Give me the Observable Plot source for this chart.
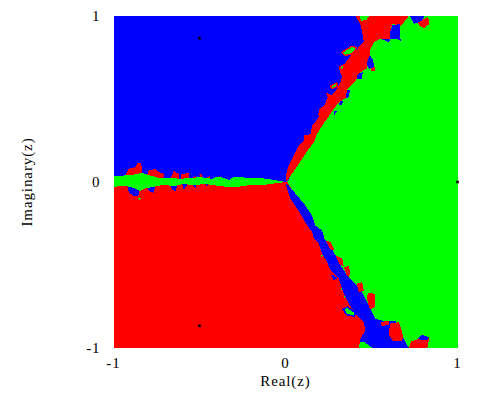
<!DOCTYPE html>
<html><head><meta charset="utf-8">
<script src="https://cdn.jsdelivr.net/npm/d3@7"></script>
<script src="https://cdn.jsdelivr.net/npm/@observablehq/plot@0.6"></script>
<style>html,body{margin:0;padding:0;background:#fff}svg{display:block}</style>
</head><body><div id="chart"></div>
<script>
const plane = [[-1,-1],[1,-1],[1,1],[-1,1]];
const blueSector = [[-1,1],[.55,1],[.01,0],[-1,0]];
const redSector = [[-1,0],[.01,0],[.6,-1],[-1,-1]];
const redFilament = [[0,0],[.006,.059],[.019,.099],[.048,.16],[.078,.22],[.107,.25],[.11,.28],[.149,.29],[.153,.34],[.18,.37],[.2,.401],[.194,.437],[.229,.465],[.242,.501],[.262,.521],[.291,.551],[.316,.591],[.329,.638],[.31,.682],[.349,.718],[.368,.746],[.417,.802],[.455,.846],[.446,.903],[.436,.947],[.407,1],[.717,1],[.688,.963],[.67,.94],[.62,.953],[.61,.893],[.607,.862],[.552,.862],[.514,.842],[.494,.802],[.49,.766],[.471,.682],[.436,.662],[.407,.611],[.359,.561],[.349,.505],[.31,.481],[.281,.441],[.242,.381],[.213,.34],[.184,.29],[.165,.24],[.136,.2],[.097,.14],[.058,.079],[.01,.009]];
const blueFilament = [[.014,-.017],[.068,-.081],[.116,-.142],[.155,-.202],[.174,-.262],[.213,-.292],[.227,-.342],[.262,-.393],[.291,-.443],[.32,-.503],[.359,-.563],[.407,-.613],[.446,-.664],[.465,-.704],[.494,-.764],[.523,-.824],[.572,-.838],[.64,-.838],[.688,-.945],[.717,-1],[.426,-1],[.436,-.945],[.465,-.895],[.455,-.845],[.407,-.794],[.368,-.734],[.339,-.674],[.31,-.583],[.262,-.533],[.242,-.483],[.213,-.433],[.194,-.372],[.165,-.342],[.155,-.302],[.126,-.262],[.087,-.192],[.029,-.101],[0,-.011]];
const greenFilament = [[-1,.033],[-.94,.039],[-.882,.045],[-.833,.055],[-.785,.039],[-.736,.023],[-.669,.025],[-.61,.019],[-.552,.025],[-.494,.029],[-.426,.019],[-.397,.033],[-.359,.025],[-.329,.013],[-.3,.029],[-.262,.029],[-.223,.025],[-.165,.025],[-.107,.019],[0,0],[-.107,-.015],[-.165,-.021],[-.223,-.021],[-.262,-.027],[-.31,-.031],[-.359,-.027],[-.407,-.021],[-.475,-.011],[-.533,-.021],[-.591,-.011],[-.649,-.025],[-.707,-.017],[-.756,-.027],[-.824,-.041],[-.843,-.055],[-.882,-.035],[-.94,-.021],[-1,-.031]];
const redBlobs = [
  [[-.936,.03],[-.911,.079],[-.872,.089],[-.862,.113],[-.839,.113],[-.828,.03]],
  [[-.814,.02],[-.795,.069],[-.756,.079],[-.736,.059],[-.707,.049],[-.711,.01],[-.765,.01]],
  [[-.674,.01],[-.649,.069],[-.62,.045],[-.62,.01]],
  [[-.61,.049],[-.562,.053],[-.562,.01],[-.61,.01]],
  [[-.552,.01],[-.523,.039],[-.51,.01]],
  [[-.504,.049],[-.484,.049],[-.484,.01]],
  [[-.475,.01],[-.44,.039],[-.44,.01]],
  [[-.393,.01],[-.382,.043],[-.374,.01]],
  [[.233,-.353],[.262,-.362],[.285,-.412],[.262,-.407]],
  [[.291,-.443],[.329,-.459],[.339,-.507],[.316,-.499]],
  [[.339,-.513],[.368,-.507],[.378,-.543],[.368,-.573],[.355,-.559]],
  [[.413,-.613],[.446,-.603],[.455,-.654],[.426,-.664]],
  [[.471,-.694],[.484,-.668],[.523,-.674],[.519,-.754],[.49,-.768]],
  [[.607,-.854],[.659,-.844],[.684,-.925],[.678,-.955],[.63,-.959],[.601,-.925]],
  [[.552,-.845],[.601,-.834],[.601,-.86],[.562,-.868]],
  [[.717,-1],[.73,-.961],[.785,-.941],[.8,-.921],[.837,-.941],[.824,-1]],
  [[.498,.692],[.523,.692],[.519,.668],[.498,.668]],
  [[.769,.963],[.804,.983],[.829,.993],[.837,.953],[.808,.927],[.781,.939]]
];
const blueBlobs = [
  [[-.924,-.01],[-.882,-.01],[-.843,-.01],[-.853,-.081],[-.882,-.087],[-.911,-.061]],
  [[-.81,-.01],[-.756,-.01],[-.766,-.065],[-.795,-.055]],
  [[-.669,-.01],[-.626,-.01],[-.64,-.055],[-.659,-.047]],
  [[-.601,-.01],[-.568,-.01],[-.591,-.047]],
  [[-.552,-.01],[-.514,-.01],[-.523,-.035]],
  [[-.465,-.005],[-.446,-.005],[-.459,-.027]],
  [[.62,.943],[.665,.953],[.669,.852],[.649,.862],[.61,.862],[.607,.893]],
  [[.552,.862],[.61,.862],[.6,.843]],
  [[.49,.766],[.51,.732],[.514,.692],[.484,.682],[.471,.712]],
  [[.421,.652],[.45,.662],[.442,.622],[.413,.618]],
  [[.359,.557],[.374,.551],[.368,.511],[.349,.505]],
  [[.316,.491],[.335,.485],[.329,.465],[.312,.465]],
  [[.281,.431],[.297,.425],[.285,.405]],
  [[.723,1],[.808,1],[.795,.974],[.765,.959],[.746,.953]],
  [[.765,-.945],[.794,-.921],[.833,-.935],[.824,-.955],[.785,-.949]]
];
const greenBlobs = [
  [[.426,-1],[.432,-.964],[.459,-.964],[.504,-1]],
  [[.43,1],[.486,1],[.471,.978],[.44,.969]],
  [[.207,-.437],[.219,-.443],[.207,-.453]],
  [[.32,-.633],[.33,-.643],[.32,-.655]],
  [[.339,-.684],[.349,-.694],[.339,-.706]],
  [[-.857,-.097],[-.839,-.097],[-.847,-.112]]
];
const greenInRed = [
  [[.329,.782],[.388,.818],[.413,.806],[.388,.772],[.343,.762]],
  [[.262,.577],[.297,.597],[.304,.581],[.271,.561]],
  [[.242,.531],[.265,.517],[.25,.511]],
  [[.316,.692],[.339,.706],[.34,.686],[.32,.672]],
  [[.194,.411],[.207,.411],[.2,.39]]
];
const greenInBlue = [
  [[.335,-.768],[.359,-.754],[.407,-.788],[.401,-.808],[.359,-.8]],
  [[.271,-.563],[.296,-.579],[.28,-.585]]
];
const rootRe = [-.5, -.5, 1];
const rootIm = [.866, -.866, 0];
const ticks = [-1, 0, 1];

const GREEN = "Root 1", BLUE = "Root 2", RED = "Root 3";
let nextId = 0;
const toRows = (polys, root, rim) => polys.flatMap(p => {
  const id = nextId++;
  return p.map(([re, im]) => ({re, im, id, root, rim}));
});
const filled = [
  ...toRows([plane], GREEN), ...toRows([blueSector], BLUE), ...toRows([redSector], RED),
  ...toRows([redFilament], RED), ...toRows([blueFilament], BLUE),
  ...toRows(redBlobs, RED), ...toRows(blueBlobs, BLUE),
  ...toRows([greenFilament], GREEN), ...toRows(greenBlobs, GREEN)
];
const rimmed = [...toRows(greenInRed, GREEN, RED), ...toRows(greenInBlue, GREEN, BLUE)];

const chart = Plot.plot({
  width: 485, height: 399,
  marginLeft: 113, marginRight: 28, marginTop: 15.5, marginBottom: 51.5,
  style: {fontFamily: "Liberation Serif, serif", fontSize: "15px", background: "#fff", color: "#000", letterSpacing: "0.9px"},
  x: {domain: [-1, 1], ticks, tickFormat: d => String(d), tickSize: 0, tickPadding: 9, label: "Real(z)", labelAnchor: "center", labelArrow: "none", labelOffset: 38},
  y: {domain: [-1, 1], ticks, tickFormat: d => String(d), tickSize: 0, tickPadding: 13, label: "Imaginary(z)", labelAnchor: "center", labelArrow: "none", labelOffset: 92},
  color: {domain: [GREEN, BLUE, RED], range: ["#00ff00", "#0000ff", "#ff0000"]},
  marks: [
    Plot.line(filled, {x: "re", y: "im", z: "id", fill: "root", stroke: "none", curve: "linear-closed", shapeRendering: "crispEdges"}),
    Plot.line(rimmed, {x: "re", y: "im", z: "id", fill: "root", stroke: "rim", strokeWidth: 1.5, curve: "linear-closed", shapeRendering: "crispEdges"}),
    Plot.dot(rootRe.map((re, i) => ({re, im: rootIm[i]})), {x: "re", y: "im", symbol: "square", r: 1.5, fill: "#000", clip: false})
  ]
});
document.getElementById("chart").append(chart);
</script></body></html>
